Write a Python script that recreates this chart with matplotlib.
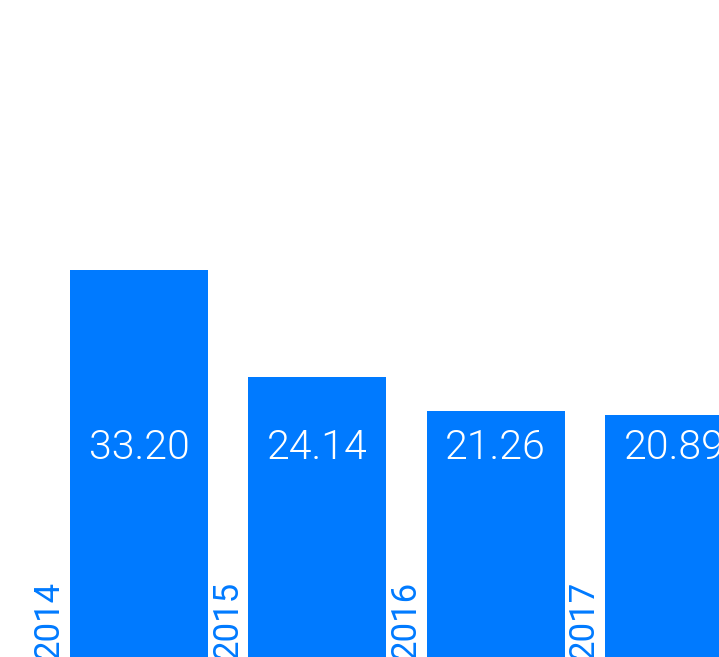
import matplotlib
matplotlib.use('Agg')
import matplotlib.pyplot as plt
import matplotlib.transforms as mtransforms

years = ['2014', '2015', '2016', '2017']
values = [33.20, 24.14, 21.26, 20.89]

blue = '#007AFF'

fig = plt.figure(figsize=(7.19, 6.57), dpi=100)
ax = fig.add_axes([0, 0, 1, 1])

x = list(range(len(years)))
bar_w = 0.774
ax.bar(x, values, width=bar_w, color=blue, align='center')

ax.set_xlim(-0.78, 3.253)
ax.set_ylim(0.34, 56.11)
ax.axis('off')

trans = mtransforms.blended_transform_factory(ax.transData, ax.transAxes)
for i, (yr, v) in enumerate(zip(years, values)):
    # value inside the bar, all at the same height
    ax.text(i, 0.318, f'{v:.2f}', transform=trans, ha='center', va='center',
            color='white', fontsize=29.5, family='Roboto', fontweight=300)
    # year label rotated, just left of the bar
    ax.text(i - bar_w / 2 - 0.025, 0.2, yr, ha='right', va='bottom',
            rotation=90, color=blue, fontsize=25, family='Roboto',
            clip_on=False)

fig.savefig('out.png', dpi=100)
